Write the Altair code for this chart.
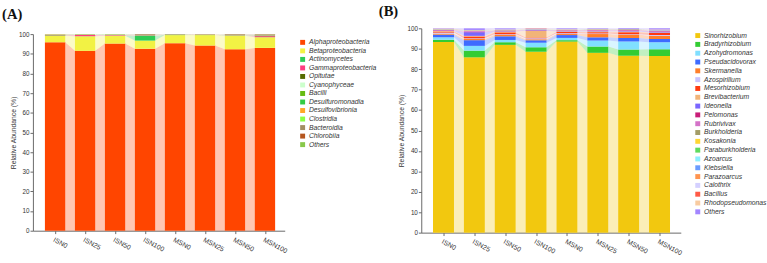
import json

import altair as alt
import pandas as pd

# ---------------------------------------------------------------- samples
samples = ["ISN0", "ISN25", "ISN50", "ISN100", "MSN0", "MSN25", "MSN50", "MSN100"]

# ------------------------------------------------- (A) class level, % abundance
alphaproteobacteria = [95.9, 91.5, 95.2, 92.6, 95.4, 94.2, 92.3, 93.0]
betaproteobacteria = [3.3, 7.4, 4.0, 4.1, 4.1, 5.3, 6.9, 5.4]
actinomycetes = [0.1, 0.05, 0.1, 2.4, 0.05, 0.05, 0.05, 0.05]
gammaproteobacteria = [0.1, 0.6, 0.3, 0.05, 0.05, 0.1, 0.1, 0.5]
opitutae = [0.1, 0.05, 0.05, 0.05, 0.1, 0.05, 0.1, 0.2]
cyanophyceae = [0.1, 0.05, 0.05, 0.05, 0.05, 0.05, 0.05, 0.05]
bacilli = [0.05, 0.05, 0.05, 0.05, 0.05, 0.05, 0.05, 0.05]
desulfuromonadia = [0.05, 0.05, 0.05, 0.0, 0.05, 0.05, 0.05, 0.05]
desulfovibrionia = [0.05, 0.05, 0.05, 0.0, 0.0, 0.05, 0.0, 0.05]
clostridia = [0.05, 0.05, 0.05, 0.0, 0.0, 0.0, 0.0, 0.0]
bacteroidia = [0.1, 0.05, 0.05, 0.6, 0.1, 0.05, 0.3, 0.4]
chlorobiia = [0.05, 0.05, 0.0, 0.1, 0.05, 0.05, 0.1, 0.15]
others_a = [0.05, 0.05, 0.05, 0.0, 0.0, 0.0, 0.0, 0.1]

classes = ["Alphaproteobacteria", "Betaproteobacteria", "Actinomycetes",
           "Gammaproteobacteria", "Opitutae", "Cyanophyceae", "Bacilli",
           "Desulfuromonadia", "Desulfovibrionia", "Clostridia", "Bacteroidia",
           "Chlorobiia", "Others"]
class_series = [alphaproteobacteria, betaproteobacteria, actinomycetes,
                gammaproteobacteria, opitutae, cyanophyceae, bacilli,
                desulfuromonadia, desulfovibrionia, clostridia, bacteroidia,
                chlorobiia, others_a]
class_colors = ["#FF4500", "#F2F244", "#2ECC55", "#FF3C80", "#556B00",
                "#CCFFCC", "#66BB11", "#33CC44", "#FFA826", "#8CFF44",
                "#A38E62", "#B5561E", "#88C84A"]

# ------------------------------------------------- (B) genus level, % abundance
sinorhizobium = [93.3, 85.8, 91.9, 88.5, 93.5, 88.0, 86.6, 86.4]
bradyrhizobium = [1.1, 3.3, 1.3, 2.2, 0.7, 3.1, 3.0, 3.3]
azohydromonas = [1.2, 2.3, 1.1, 2.2, 1.1, 2.9, 3.9, 3.5]
pseudacidovorax = [1.3, 2.8, 1.8, 1.2, 1.4, 1.6, 1.8, 1.6]
skermanella = [0.5, 0.6, 0.7, 0.5, 0.5, 1.6, 1.5, 1.6]
azospirillum = [0.5, 0.3, 0.3, 0.5, 0.4, 0.3, 0.3, 0.3]
mesorhizobium = [0.5, 0.9, 0.9, 0.4, 0.6, 0.6, 1.0, 1.0]
brevibacterium = [0.3, 0.3, 0.4, 3.3, 0.3, 0.4, 0.4, 0.3]
ideonella = [0.2, 1.8, 0.2, 0.3, 0.2, 0.3, 0.3, 0.3]
pelomonas = [0.2, 0.2, 0.2, 0.1, 0.2, 0.2, 0.2, 0.3]
rubrivivax = [0.2, 0.4, 0.2, 0.2, 0.2, 0.2, 0.2, 0.3]
burkholderia = [0.1, 0.1, 0.1, 0.1, 0.1, 0.1, 0.1, 0.1]
kosakonia = [0.06, 0.05, 0.04, 0.05, 0.06, 0.05, 0.04, 0.05]
paraburkholderia = [0.04, 0.05, 0.06, 0.05, 0.04, 0.05, 0.06, 0.05]
azoarcus = [0.07, 0.05, 0.05, 0.04, 0.06, 0.05, 0.05, 0.06]
klebsiella = [0.03, 0.05, 0.05, 0.06, 0.04, 0.05, 0.05, 0.04]
parazoarcus = [0.05, 0.06, 0.05, 0.05, 0.04, 0.06, 0.05, 0.05]
calothrix = [0.05, 0.04, 0.05, 0.05, 0.06, 0.04, 0.05, 0.05]
bacillus = [0.06, 0.05, 0.04, 0.05, 0.05, 0.06, 0.05, 0.04]
rhodopseudomonas = [0.04, 0.05, 0.06, 0.05, 0.05, 0.04, 0.05, 0.06]
others_b = [0.2, 0.8, 0.5, 0.1, 0.4, 0.3, 0.3, 0.6]

genera = ["Sinorhizobium", "Bradyrhizobium", "Azohydromonas", "Pseudacidovorax",
          "Skermanella", "Azospirillum", "Mesorhizobium", "Brevibacterium",
          "Ideonella", "Pelomonas", "Rubrivivax", "Burkholderia", "Kosakonia",
          "Paraburkholderia", "Azoarcus", "Klebsiella", "Parazoarcus",
          "Calothrix", "Bacillus", "Rhodopseudomonas", "Others"]
genus_series = [sinorhizobium, bradyrhizobium, azohydromonas, pseudacidovorax,
                skermanella, azospirillum, mesorhizobium, brevibacterium,
                ideonella, pelomonas, rubrivivax, burkholderia, kosakonia,
                paraburkholderia, azoarcus, klebsiella, parazoarcus, calothrix,
                bacillus, rhodopseudomonas, others_b]
genus_colors = ["#F2C80F", "#33CC33", "#80DFFF", "#3D6BFF", "#FF7F2A",
                "#C8C2FF", "#FF3A10", "#F2B478", "#7A66FF", "#C81E78",
                "#D473C8", "#A39C66", "#FFD633", "#5EDB5E", "#8CEEFF",
                "#6A9BFF", "#FF9450", "#D4D0FF", "#FF5A46", "#F8CBA0",
                "#A386FF"]

FONT = "Liberation Sans"
HALF = 0.34  # half bar width, in sample-index units


def stacked_tables(names, series):
    """Stack each sample's values and build the bands joining adjacent bars."""
    bars = []
    for i, sample in enumerate(samples):
        base = 0.0
        for k, (name, vals) in enumerate(zip(names, series)):
            bars.append(dict(idx=i, sample=sample, taxon=name, rank=k,
                             value=vals[i], lo=base, hi=base + vals[i],
                             left=i - HALF, right=i + HALF))
            base += vals[i]
    bars = pd.DataFrame(bars)
    links = []
    for g in range(len(samples) - 1):
        for name in names:
            a = bars[(bars.idx == g) & (bars.taxon == name)].iloc[0]
            b = bars[(bars.idx == g + 1) & (bars.taxon == name)].iloc[0]
            links.append(dict(gap=g, taxon=name, pos=g + HALF, lo=a.lo, hi=a.hi))
            links.append(dict(gap=g, taxon=name, pos=g + 1 - HALF, lo=b.lo, hi=b.hi))
    return bars, pd.DataFrame(links)


def panel(names, series, colors, width, height, y_range, x_domain, title,
          title_dx, legend_x, legend_y, legend_font, row_pad):
    bars, links = stacked_tables(names, series)
    label_expr = json.dumps(samples) + "[datum.value]"
    x_axis = alt.Axis(values=list(range(len(samples))), labelExpr=label_expr,
                      title=None, labelAngle=28, labelAlign="left",
                      labelBaseline="top", labelFontSize=7, labelFont=FONT,
                      labelColor="#333333", labelPadding=2, tickSize=3,
                      domainColor="#666666", tickColor="#666666", grid=False)
    x_scale = alt.Scale(domain=x_domain, nice=False, zero=False)
    y_axis = alt.Axis(values=list(range(0, 101, 10)), title="Relative Abundance (%)",
                      titleFontSize=7, titleFontWeight="normal", titleFont=FONT,
                      titleColor="#333333", titlePadding=2, labelFontSize=6.5,
                      labelFont=FONT, labelColor="#333333", labelPadding=1,
                      tickSize=3, domainColor="#666666", tickColor="#666666",
                      grid=False)
    y_scale = alt.Scale(domain=[0, 100], nice=False, range=y_range)
    color_scale = alt.Scale(domain=names, range=colors)
    legend = alt.Legend(title=None, orient="none", legendX=legend_x,
                        legendY=legend_y, padding=0, labelFontSize=legend_font,
                        labelFont=FONT, labelFontStyle="italic",
                        labelColor="#333333", symbolType="square",
                        symbolSize=26, symbolStrokeWidth=0, symbolOpacity=1,
                        rowPadding=row_pad, labelOffset=3, labelLimit=200)

    bands = alt.Chart(links).mark_area(opacity=0.3, interpolate="linear").encode(
        x=alt.X("pos:Q", scale=x_scale, axis=x_axis),
        y=alt.Y("hi:Q", scale=y_scale, axis=y_axis),
        y2="lo:Q",
        color=alt.Color("taxon:N", scale=color_scale, legend=legend),
        detail="gap:N",
    )
    columns = alt.Chart(bars).mark_bar(stroke=None).encode(
        x=alt.X("left:Q", scale=x_scale, axis=x_axis),
        x2="right:Q",
        y=alt.Y("hi:Q", scale=y_scale, axis=y_axis),
        y2="lo:Q",
        color=alt.Color("taxon:N", scale=color_scale, legend=legend),
        order=alt.Order("rank:Q"),
    )
    return alt.layer(bands, columns).properties(
        width=width, height=height,
        title=alt.TitleParams(title, anchor="start", frame="bounds",
                              font="Liberation Serif", fontSize=15,
                              fontWeight="bold", color="#111111",
                              offset=7, dx=title_dx),
    )


# panel (A) spans 100..0 over pixels 6..209 of its 209 px tall view
panel_a = panel(classes, class_series, class_colors, 260, 209, [209, 6],
                [-0.74, 7.66], "(A)", -8, 275, 11, 7, 0.8)
panel_b = panel(genera, genus_series, genus_colors, 268, 211, [211, 0],
                [-0.72, 7.69], "(B)", -20, 282, 4, 7, 1.1)

chart = alt.hconcat(panel_a, panel_b, spacing=2).resolve_scale(
    color="independent", x="independent", y="independent"
).properties(
    padding={"left": 2, "top": 0, "right": 0, "bottom": 0},
    background="white",
).configure_view(stroke=None)

chart.save("out.html", embed_options={"renderer": "svg", "actions": False})
